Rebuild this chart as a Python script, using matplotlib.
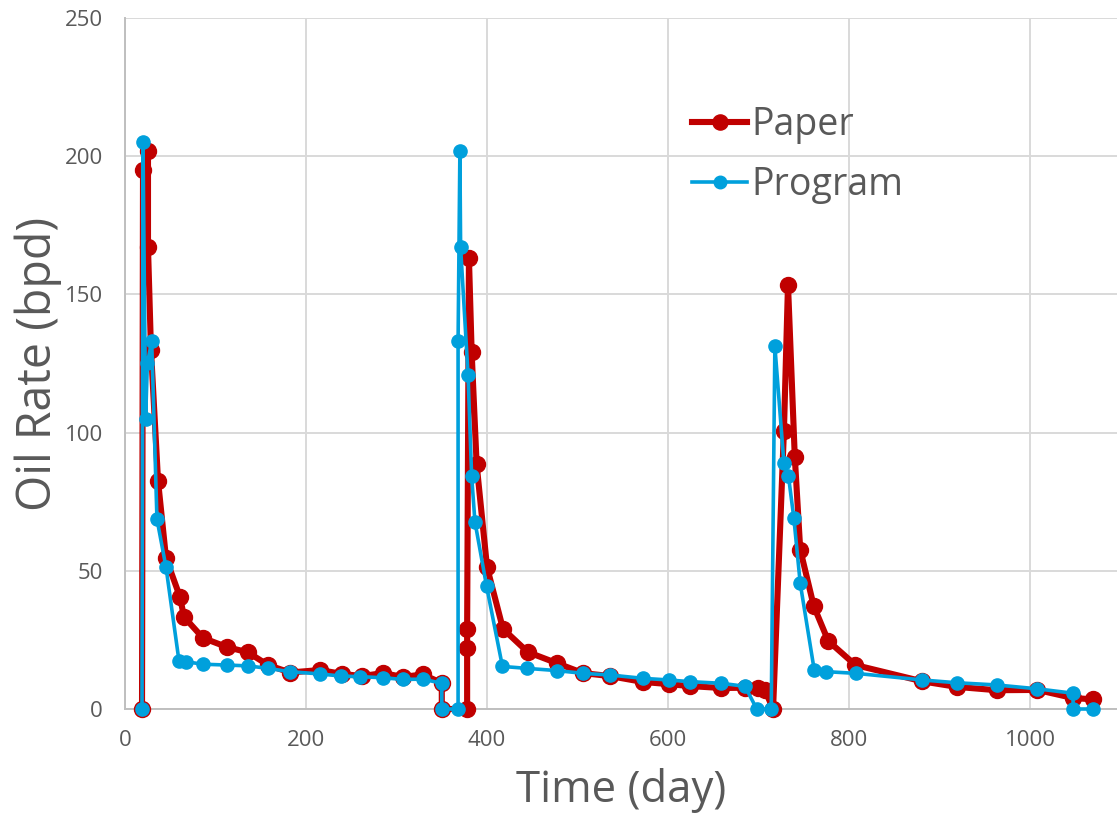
import matplotlib
matplotlib.use("Agg")
import matplotlib.pyplot as plt

plt.rcParams['font.family'] = ['Open Sans', 'DejaVu Sans']

paper_day = [18.8, 19.9, 25.4, 25.4, 28.7, 36.5, 45.3, 60.8, 65.2, 86.2,
             112.7, 135.9, 158, 182.3, 215.4, 239.7, 261.8, 285, 307, 329,
             350, 350, 378, 378, 378, 380, 383, 388.5, 400, 417.6,
             445, 477, 506, 536, 572, 601, 624, 659, 685, 699,
             707, 716, 728, 732.5, 740, 746, 761, 777, 807, 881,
             919, 963, 1008, 1047, 1069]
paper_rate = [0, 195, 202, 167, 130, 82.5, 54.6, 40.5, 33.3, 25.7,
              22.4, 20.5, 15.9, 13.2, 14.1, 12.7, 11.9, 13.0, 11.6, 12.5,
              9.4, 0, 0, 22, 29, 163, 129, 88.5, 51.3, 29,
              20.6, 16.6, 13, 11.9, 9.8, 9, 8.3, 7.6, 7.7, 7.5,
              6.9, 0, 100.5, 153.4, 91.3, 57.7, 37.2, 24.6, 15.9, 10.0,
              8.0, 6.8, 6.9, 4.0, 3.5]

prog_day = [18.8, 19.9, 22.8, 24.7, 29.5, 35.3, 45.3, 59.6, 67, 86.5,
            113, 136, 158, 182, 215, 239, 260, 285, 307, 329,
            350, 350, 368, 368, 370, 370.8, 379, 383, 386.6, 399.5,
            417, 444, 477, 506, 536, 572, 601, 624, 659, 685,
            698, 714, 718, 728, 733, 739, 746, 761.5, 775, 807.5,
            881, 918.7, 963, 1008, 1047.5, 1047.5, 1069]
prog_rate = [0, 205, 105, 125, 133, 68.7, 51.3, 17.5, 17.1, 16.2,
             15.9, 15.6, 14.7, 13.5, 12.7, 11.9, 11.7, 11.3, 10.7, 10.8,
             9.3, 0, 0, 133, 202, 167, 121, 84.2, 67.8, 44.4,
             15.4, 14.7, 13.9, 12.9, 12.3, 11.1, 10.5, 9.9, 9.3, 8.2,
             0, 0, 131.3, 88.9, 84.3, 69, 45.5, 14.1, 13.5, 12.9,
             10.5, 9.5, 8.7, 7.3, 5.7, 0, 0]

x_ticks = [0, 200, 400, 600, 800, 1000]
y_ticks = [0, 50, 100, 150, 200, 250]

RED = '#C00000'
BLUE = '#00A0DC'
GRID = '#D9D9D9'
TXT = '#595959'

fig = plt.figure(figsize=(11.17, 8.13), dpi=100)
ax = fig.add_axes([125/1117, 104/813, (1117-125)/1117, (709-18)/813])

ax.plot(paper_day, paper_rate, color=RED, lw=4.4, marker='o', ms=11.5,
        label='Paper', clip_on=False, zorder=3)
ax.plot(prog_day, prog_rate, color=BLUE, lw=2.6, marker='o', ms=9.5,
        label='Program', clip_on=False, zorder=4)

ax.set_xlim(0, 1096)
ax.set_ylim(0, 250)
ax.set_xticks(x_ticks)
ax.set_yticks(y_ticks)
ax.grid(True, color=GRID, lw=1.4, zorder=0)
ax.set_axisbelow(True)
for s in ['top', 'right']:
    ax.spines[s].set_visible(False)
for s in ['left', 'bottom']:
    ax.spines[s].set_color('#BFBFBF')
    ax.spines[s].set_linewidth(1.4)
ax.tick_params(length=0, labelsize=16, labelcolor=TXT)
ax.tick_params(axis='x', pad=15)
ax.tick_params(axis='y', pad=16)

ax.set_xlabel('Time (day)', fontsize=31.5, color=TXT, labelpad=12)
ax.set_ylabel('Oil Rate (bpd)', fontsize=33.5, color=TXT, labelpad=2)

leg = ax.legend(loc='upper left', bbox_to_anchor=(0.5716, 0.872), frameon=False,
                fontsize=27, handlelength=1.47, handletextpad=0.1,
                labelspacing=0.58, borderpad=0, borderaxespad=0,
                markerscale=0.95)
for t in leg.get_texts():
    t.set_color(TXT)

fig.savefig('out.png', dpi=100)
